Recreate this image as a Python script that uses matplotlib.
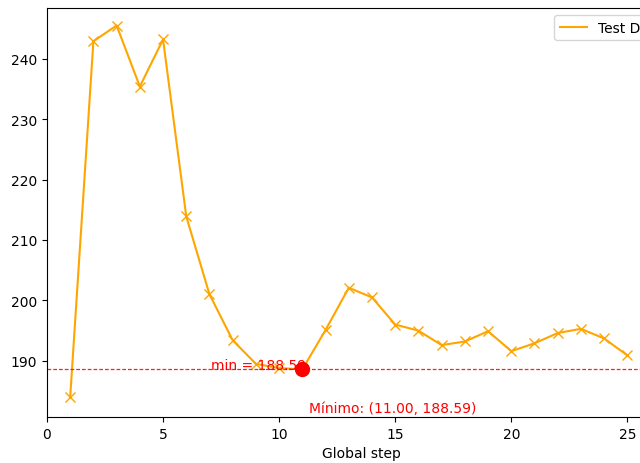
import numpy as np
import matplotlib.pyplot as plt

steps = list(range(1, 26))
loss = [184.0, 242.9, 245.5, 235.4, 243.2, 213.9, 201.0, 193.4, 189.5, 188.8,
        188.59, 195.1, 202.1, 200.5, 196.0, 195.0, 192.6, 193.2, 194.9, 191.6,
        192.9, 194.6, 195.3, 193.7, 190.9]
min_step = 11
min_val = 188.59

fig = plt.figure(figsize=(6.4, 4.64), dpi=100)
# the original is a crop, the axes run past the right edge of the image
ax = fig.add_axes([0.0734, 0.0991, 0.983, 0.8815])

ax.plot(steps, loss, color="orange", label="Test Data")
ax.plot(steps, loss, color="orange", marker="x", linestyle="none", markersize=7)
ax.axhline(min_val, color="#ff2020", linestyle=(0, (3, 1.6)), linewidth=0.9)
ax.plot(min_step, min_val, "o", color="red", markersize=10)
ax.text(7.05, min_val, f"min = {min_val:.2f}", color="red", fontsize=10)
ax.text(11.3, min_val - 7.0, f"Mínimo: ({min_step:.2f}, {min_val:.2f})", color="red", fontsize=10)

ax.set_xlim(0, 27.1)
ax.set_ylim(180.7, 248.4)
ax.set_xlabel("Global step")
ax.legend(loc="upper right")

fig.savefig("out.png", dpi=100)
